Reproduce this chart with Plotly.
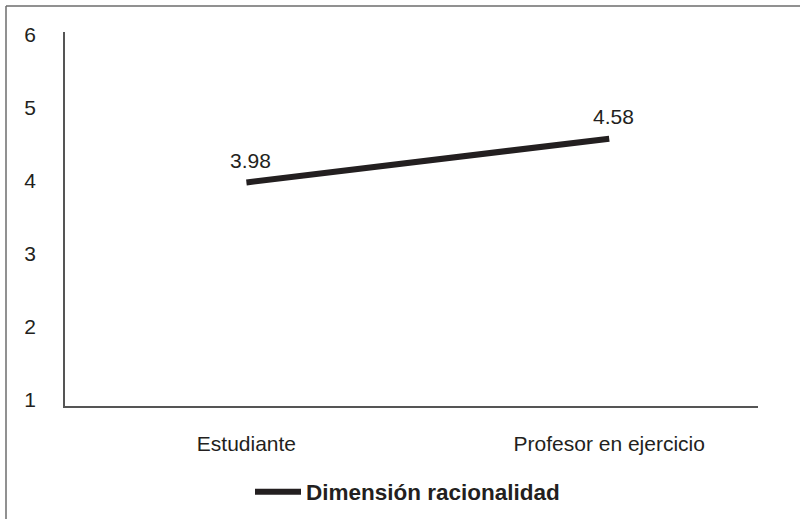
import plotly.graph_objects as go

categories = ["Estudiante", "Profesor en ejercicio"]
values = [3.98, 4.58]
value_labels = ["3.98", "4.58"]
series_name = "Dimensión racionalidad"
y_ticks = [1, 2, 3, 4, 5, 6]

ink = "#231f20"
font_family = "Liberation Sans, Arial, sans-serif"

fig = go.Figure()
fig.add_trace(go.Scatter(
    x=categories, y=values, mode="lines", name=series_name,
    line=dict(color=ink, width=6), showlegend=True,
))

for c, v, t in zip(categories, values, value_labels):
    fig.add_annotation(x=c, y=v, text=t, showarrow=False, yshift=22, xshift=4,
                       font=dict(family=font_family, size=21, color=ink))

L, R, T, B = 65, 45, 32, 113
W, H = 803, 519
pw, ph = W - L - R, H - T - B

def px_x(p):
    return (p - L) / pw

def px_y(p):
    return (H - B - p) / ph

border = dict(color="#6d6d6d", width=1.5)
fig.add_shape(type="line", xref="paper", yref="paper",
              x0=px_x(6), x1=px_x(6), y0=px_y(6), y1=px_y(519), line=border)
fig.add_shape(type="line", xref="paper", yref="paper",
              x0=px_x(6), x1=px_x(800), y0=px_y(6), y1=px_y(6), line=border)

fig.update_layout(
    width=W, height=H,
    margin=dict(l=L, r=R, t=T, b=B, autoexpand=False),
    paper_bgcolor="white", plot_bgcolor="white",
    font=dict(family=font_family, size=21, color=ink),
    showlegend=True,
    legend=dict(orientation="h", x=px_x(250), xanchor="left", y=px_y(492), yanchor="middle",
                font=dict(family=font_family, size=22.5, color=ink, weight="bold"),
                itemwidth=46),
)
fig.update_xaxes(type="category", range=[-0.5, 1.41], showgrid=False, zeroline=False,
                 showline=True, linecolor="#555555", linewidth=1.5, automargin=False,
                 ticks="", ticklabelstandoff=18,
                 tickfont=dict(size=21, color=ink))
fig.update_yaxes(range=[0.918, 6.041], tickvals=y_ticks, showgrid=False, zeroline=False,
                 showline=True, linecolor="#555555", linewidth=1.5, automargin=False,
                 ticks="", ticklabelstandoff=23,
                 tickfont=dict(size=21, color=ink))

fig.write_html("out.html", config={"displayModeBar": False},
               post_script="document.body.style.margin='0';document.body.style.overflow='hidden';")
